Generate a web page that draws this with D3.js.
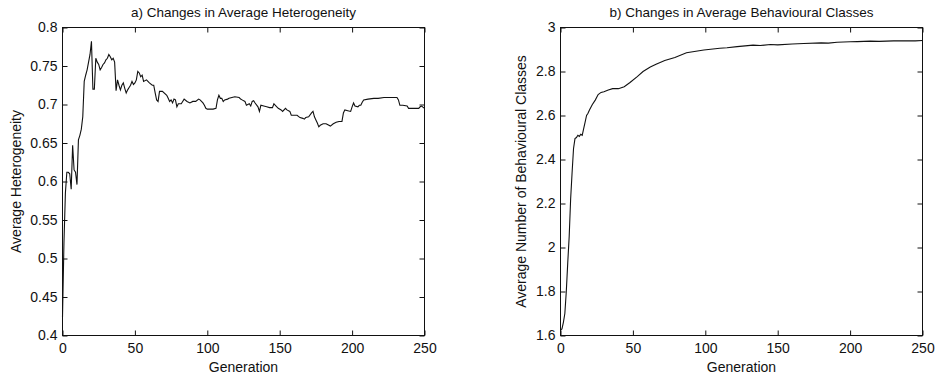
<!DOCTYPE html>
<html><head><meta charset="utf-8">
<script src="https://cdn.jsdelivr.net/npm/d3@7/dist/d3.min.js"></script>
<style>
body{margin:0;background:#fff}
text{font-family:"Liberation Sans",Arial,sans-serif;fill:#111}
</style></head>
<body><svg id="c" width="937" height="378"></svg>
<script>
// ---- data ----
const xTicks = [0, 50, 100, 150, 200, 250];
const yTicksA = [0.4, 0.45, 0.5, 0.55, 0.6, 0.65, 0.7, 0.75, 0.8];
const yTicksB = [1.6, 1.8, 2, 2.2, 2.4, 2.6, 2.8, 3];

const genA = [0,1,2,3,4,5,6,7,8,9,10,11,12,13,14,15,16,17,18,19,20,21,22,23,24,25,26,27,28,29,30,31,32,33,34,35,36,37,38,39,40,41,42,43,44,45,46,47,48,49,50,51,52,53,54,55,56,58,60,62,63,64,65,66,67,69,72,73,74,75,76,77,78,79,80,82,83,84,86,88,90,92,94,95,97,98,99,100,101,104,106,107,108,109,110,111,112,114,115,117,119,122,123,124,126,127,129,130,131,132,133,135,136,137,139,141,143,145,146,147,149,151,152,154,155,157,158,160,162,164,166,167,168,170,172,173,174,175,176,177,178,180,182,183,185,187,189,191,193,194,195,197,199,200,201,202,204,205,206,207,208,211,215,218,222,226,231,232,233,235,238,239,242,246,247,248,250];
const hetA = [0.424,0.52,0.585,0.612,0.612,0.61,0.59,0.647,0.615,0.612,0.596,0.654,0.66,0.668,0.684,0.73,0.738,0.745,0.755,0.765,0.782,0.72,0.72,0.76,0.755,0.752,0.745,0.748,0.752,0.754,0.758,0.76,0.765,0.762,0.758,0.76,0.755,0.718,0.732,0.725,0.719,0.725,0.728,0.721,0.715,0.719,0.722,0.725,0.73,0.726,0.728,0.732,0.743,0.741,0.736,0.738,0.73,0.732,0.728,0.725,0.725,0.715,0.706,0.704,0.717,0.717,0.712,0.708,0.704,0.706,0.702,0.707,0.706,0.697,0.701,0.701,0.704,0.707,0.704,0.702,0.704,0.704,0.707,0.706,0.702,0.699,0.695,0.694,0.694,0.694,0.695,0.706,0.712,0.708,0.708,0.704,0.706,0.707,0.708,0.709,0.710,0.709,0.707,0.706,0.704,0.699,0.701,0.698,0.704,0.705,0.702,0.697,0.691,0.699,0.698,0.697,0.696,0.696,0.701,0.699,0.695,0.693,0.691,0.695,0.693,0.691,0.686,0.686,0.686,0.683,0.682,0.681,0.683,0.684,0.689,0.691,0.684,0.680,0.676,0.671,0.673,0.675,0.675,0.674,0.672,0.675,0.677,0.678,0.678,0.689,0.693,0.692,0.691,0.697,0.702,0.698,0.697,0.699,0.699,0.703,0.706,0.707,0.708,0.708,0.709,0.709,0.709,0.706,0.699,0.699,0.698,0.695,0.695,0.695,0.697,0.698,0.695,0.695];

const genB = [0,1,2,3,4,5,6,7,8,9,10,11,12,13,14,15,16,17,18,19,20,22,24,26,28,30,33,36,40,44,48,53,57,62,66,72,79,87,99,110,115,122,133,138,145,150,160,168,180,185,191,200,205,214,220,230,240,245,250];
const clsB = [1.625,1.63,1.66,1.70,1.80,1.93,2.05,2.22,2.34,2.45,2.495,2.50,2.51,2.505,2.515,2.51,2.54,2.57,2.60,2.61,2.625,2.65,2.67,2.695,2.705,2.708,2.716,2.722,2.722,2.731,2.75,2.777,2.80,2.82,2.833,2.85,2.864,2.885,2.898,2.906,2.908,2.913,2.92,2.918,2.923,2.921,2.925,2.927,2.93,2.929,2.933,2.935,2.936,2.938,2.937,2.939,2.94,2.939,2.941];

// ---- drawing ----
const svg = d3.select('#c');

function panel(o) {
  const g = svg.append('g');
  const x = d3.scaleLinear().domain([0, 250]).range([o.x0, o.x1]);
  const y = d3.scaleLinear().domain(o.yDomain).range([o.y1, o.y0]);

  const styleAxis = sel => {
    sel.select('.domain').remove();
    sel.selectAll('line').attr('stroke', '#111');
    sel.selectAll('text').style('font-size', '14px').attr('fill', '#111');
  };
  g.append('g').attr('transform', `translate(0,${o.y1})`)
    .call(d3.axisBottom(x).tickValues(xTicks).tickSize(-5).tickPadding(8).tickFormat(d3.format('d')))
    .call(styleAxis);
  g.append('g').attr('transform', `translate(0,${o.y0})`)
    .call(d3.axisTop(x).tickValues(xTicks).tickSize(-5).tickFormat(''))
    .call(styleAxis);
  g.append('g').attr('transform', `translate(${o.x0},0)`)
    .call(d3.axisLeft(y).tickValues(o.yTicks).tickSize(-5).tickPadding(5).tickFormat(d => String(+d.toFixed(2))))
    .call(styleAxis);
  g.append('g').attr('transform', `translate(${o.x1},0)`)
    .call(d3.axisRight(y).tickValues(o.yTicks).tickSize(-5).tickFormat(''))
    .call(styleAxis);

  g.append('rect').attr('x', o.x0).attr('y', o.y0)
    .attr('width', o.x1 - o.x0).attr('height', o.y1 - o.y0)
    .attr('fill', 'none').attr('stroke', '#111').attr('stroke-width', 1);

  const line = d3.line().x((d, i) => x(o.xs[i])).y(d => y(d));
  g.append('path').datum(o.ys).attr('d', line)
    .attr('fill', 'none').attr('stroke', '#111').attr('stroke-width', 1.1);

  g.append('text').attr('x', (o.x0 + o.x1) / 2).attr('y', 17)
    .attr('text-anchor', 'middle').style('font-size', '13.5px').text(o.title);
  g.append('text').attr('x', (o.x0 + o.x1) / 2).attr('y', 372)
    .attr('text-anchor', 'middle').style('font-size', '14px').text('Generation');
  g.append('text').attr('transform', `translate(${o.labelX},${(o.y0 + o.y1) / 2}) rotate(-90)`)
    .attr('text-anchor', 'middle').style('font-size', '14px').text(o.ylabel);
}

panel({x0: 62.5, x1: 424.5, y0: 27.5, y1: 335.5, yDomain: [0.4, 0.8], yTicks: yTicksA,
  xs: genA, ys: hetA, title: 'a) Changes in Average Heterogeneity', ylabel: 'Average Heterogeneity', labelX: 21});
panel({x0: 560.5, x1: 922.5, y0: 27.5, y1: 335.5, yDomain: [1.6, 3], yTicks: yTicksB,
  xs: genB, ys: clsB, title: 'b) Changes in Average Behavioural Classes', ylabel: 'Average Number of Behavioural Classes', labelX: 526});
</script></body></html>
